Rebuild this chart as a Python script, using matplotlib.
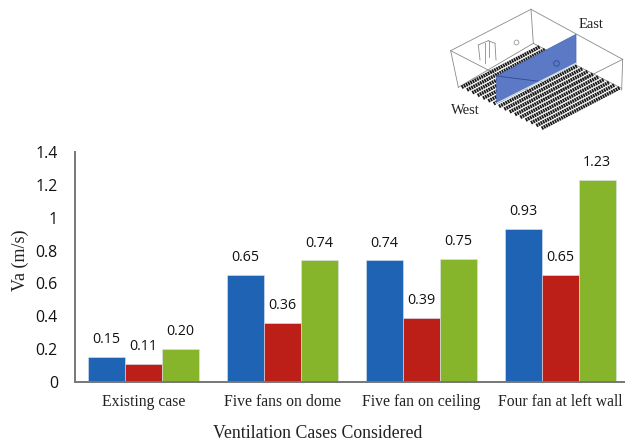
import matplotlib
matplotlib.use("Agg")
import matplotlib.pyplot as plt
import numpy as np
from matplotlib.patches import Polygon

categories = ["Existing case", "Five fans on dome", "Five fan on ceiling", "Four fan at left wall"]
series_a = [0.15, 0.65, 0.74, 0.93]
series_b = [0.11, 0.36, 0.39, 0.65]
series_c = [0.20, 0.74, 0.75, 1.23]
labels_a = ["0.15", "0.65", "0.74", "0.93"]
labels_b = ["0.11", "0.36", "0.39", "0.65"]
labels_c = ["0.20", "0.74", "0.75", "1.23"]
yticks = [0, 0.2, 0.4, 0.6, 0.8, 1, 1.2, 1.4]
ytick_labels = ["0", "0.2", "0.4", "0.6", "0.8", "1", "1.2", "1.4"]
colors = ["#1F63B5", "#BC1E18", "#86B52B"]

W, H = 625, 442
fig = plt.figure(figsize=(W / 100, H / 100), dpi=100, facecolor="white")
L, R, T, B = 74.5, 625, 152, 382
ax = fig.add_axes([L / W, 1 - B / H, (R - L) / W, (B - T) / H])
step = 139.0
center0 = 143.2
ax.set_xlim(-(center0 - L) / step, (R - center0) / step)
ax.set_ylim(0, 1.4)
x = np.arange(len(categories))
bw = 37 / step
for off, vals, labs, c in zip((-bw, 0, bw), (series_a, series_b, series_c), (labels_a, labels_b, labels_c), colors):
    ax.bar(x + off, vals, bw, color=c, edgecolor="#DCE6F2", linewidth=0.4)
    for xi, v, s in zip(x + off, vals, labs):
        ax.annotate(s, (xi, v), xytext=(0, 12.5), textcoords="offset points", ha="center", va="center",
                    family="Open Sans", fontsize=10.3, color="#111111")

for s in ("top", "right"):
    ax.spines[s].set_visible(False)
for s in ("left", "bottom"):
    ax.spines[s].set_color("#777777")
    ax.spines[s].set_linewidth(1.4)
ax.spines["left"].set_zorder(5)
ax.set_xticks(x)
ax.set_xticklabels(categories, family="Liberation Serif", fontsize=11.3, color="#222222")
ax.set_yticks(yticks)
ax.set_yticklabels(ytick_labels, family="Open Sans", fontsize=11.4, color="#111111")
ax.tick_params(axis="both", length=0)
ax.tick_params(axis="x", pad=9)
ax.tick_params(axis="y", pad=12)
fig.text(20 / W, 1 - 260 / H, "Va (m/s)", rotation=90, ha="center", va="center",
         family="Liberation Serif", fontsize=13, color="#222222")
fig.text(318 / W, 1 - 433 / H, "Ventilation Cases Considered", ha="center", va="center",
         family="Liberation Serif", fontsize=12.8, color="#222222")

# Inset schematic of the building (decoration), in zoomed-reference units
ins = fig.add_axes([430 / W, 1 - 130 / H, 195 / W, 130 / H])
ins.set_xlim(0, 585)
ins.set_ylim(390, 0)
ins.axis("off")
gray = "#8a8a8a"
outline = [
    [(303, 28), (62, 152)], [(303, 28), (578, 178)], [(62, 152), (85, 262)],
    [(578, 178), (575, 270)], [(303, 28), (310, 130)], [(62, 152), (320, 285)],
    [(85, 262), (310, 130)], [(310, 130), (575, 265)], [(578, 178), (335, 300)],
    [(145, 135), (175, 122)], [(145, 135), (150, 180)], [(175, 122), (195, 130)],
    [(195, 130), (198, 180)], [(165, 128), (165, 190)], [(178, 122), (178, 170)],
]
for p, q in outline:
    ins.plot([p[0], q[0]], [p[1], q[1]], color=gray, lw=0.6)
row_dx, row_dy = 235, -122
for t in np.linspace(0, 1, 16):
    x0, y0 = 95 + 240 * t, 262 + 123 * t
    ins.plot([x0, x0 + row_dx], [y0, y0 + row_dy], color="#1a1a1a", lw=2.6, ls=(0, (0.5, 0.18)))
ins.add_patch(Polygon([(200, 228), (438, 103), (438, 190), (200, 310)], closed=True,
                      facecolor="#5C79C6", edgecolor="#4a66b0", lw=0.5, zorder=5))
ins.plot([200, 335], [228, 245], color="#2f4a90", lw=0.6, zorder=6)
ins.plot([200, 438], [310, 190], color="#d0dfe0", lw=1, zorder=6)
ins.plot([378], [188], marker="o", ms=4, mfc="none", mec="#2f4a90", mew=0.6, zorder=6)
ins.plot([258], [125], marker="o", ms=3.5, mfc="none", mec=gray, mew=0.5)
ins.text(484, 72, "East", ha="center", va="center", family="Liberation Serif", fontsize=10.5, color="#222222")
ins.text(105, 332, "West", ha="center", va="center", family="Liberation Serif", fontsize=10.5, color="#222222")

fig.savefig("out.png", dpi=100)
